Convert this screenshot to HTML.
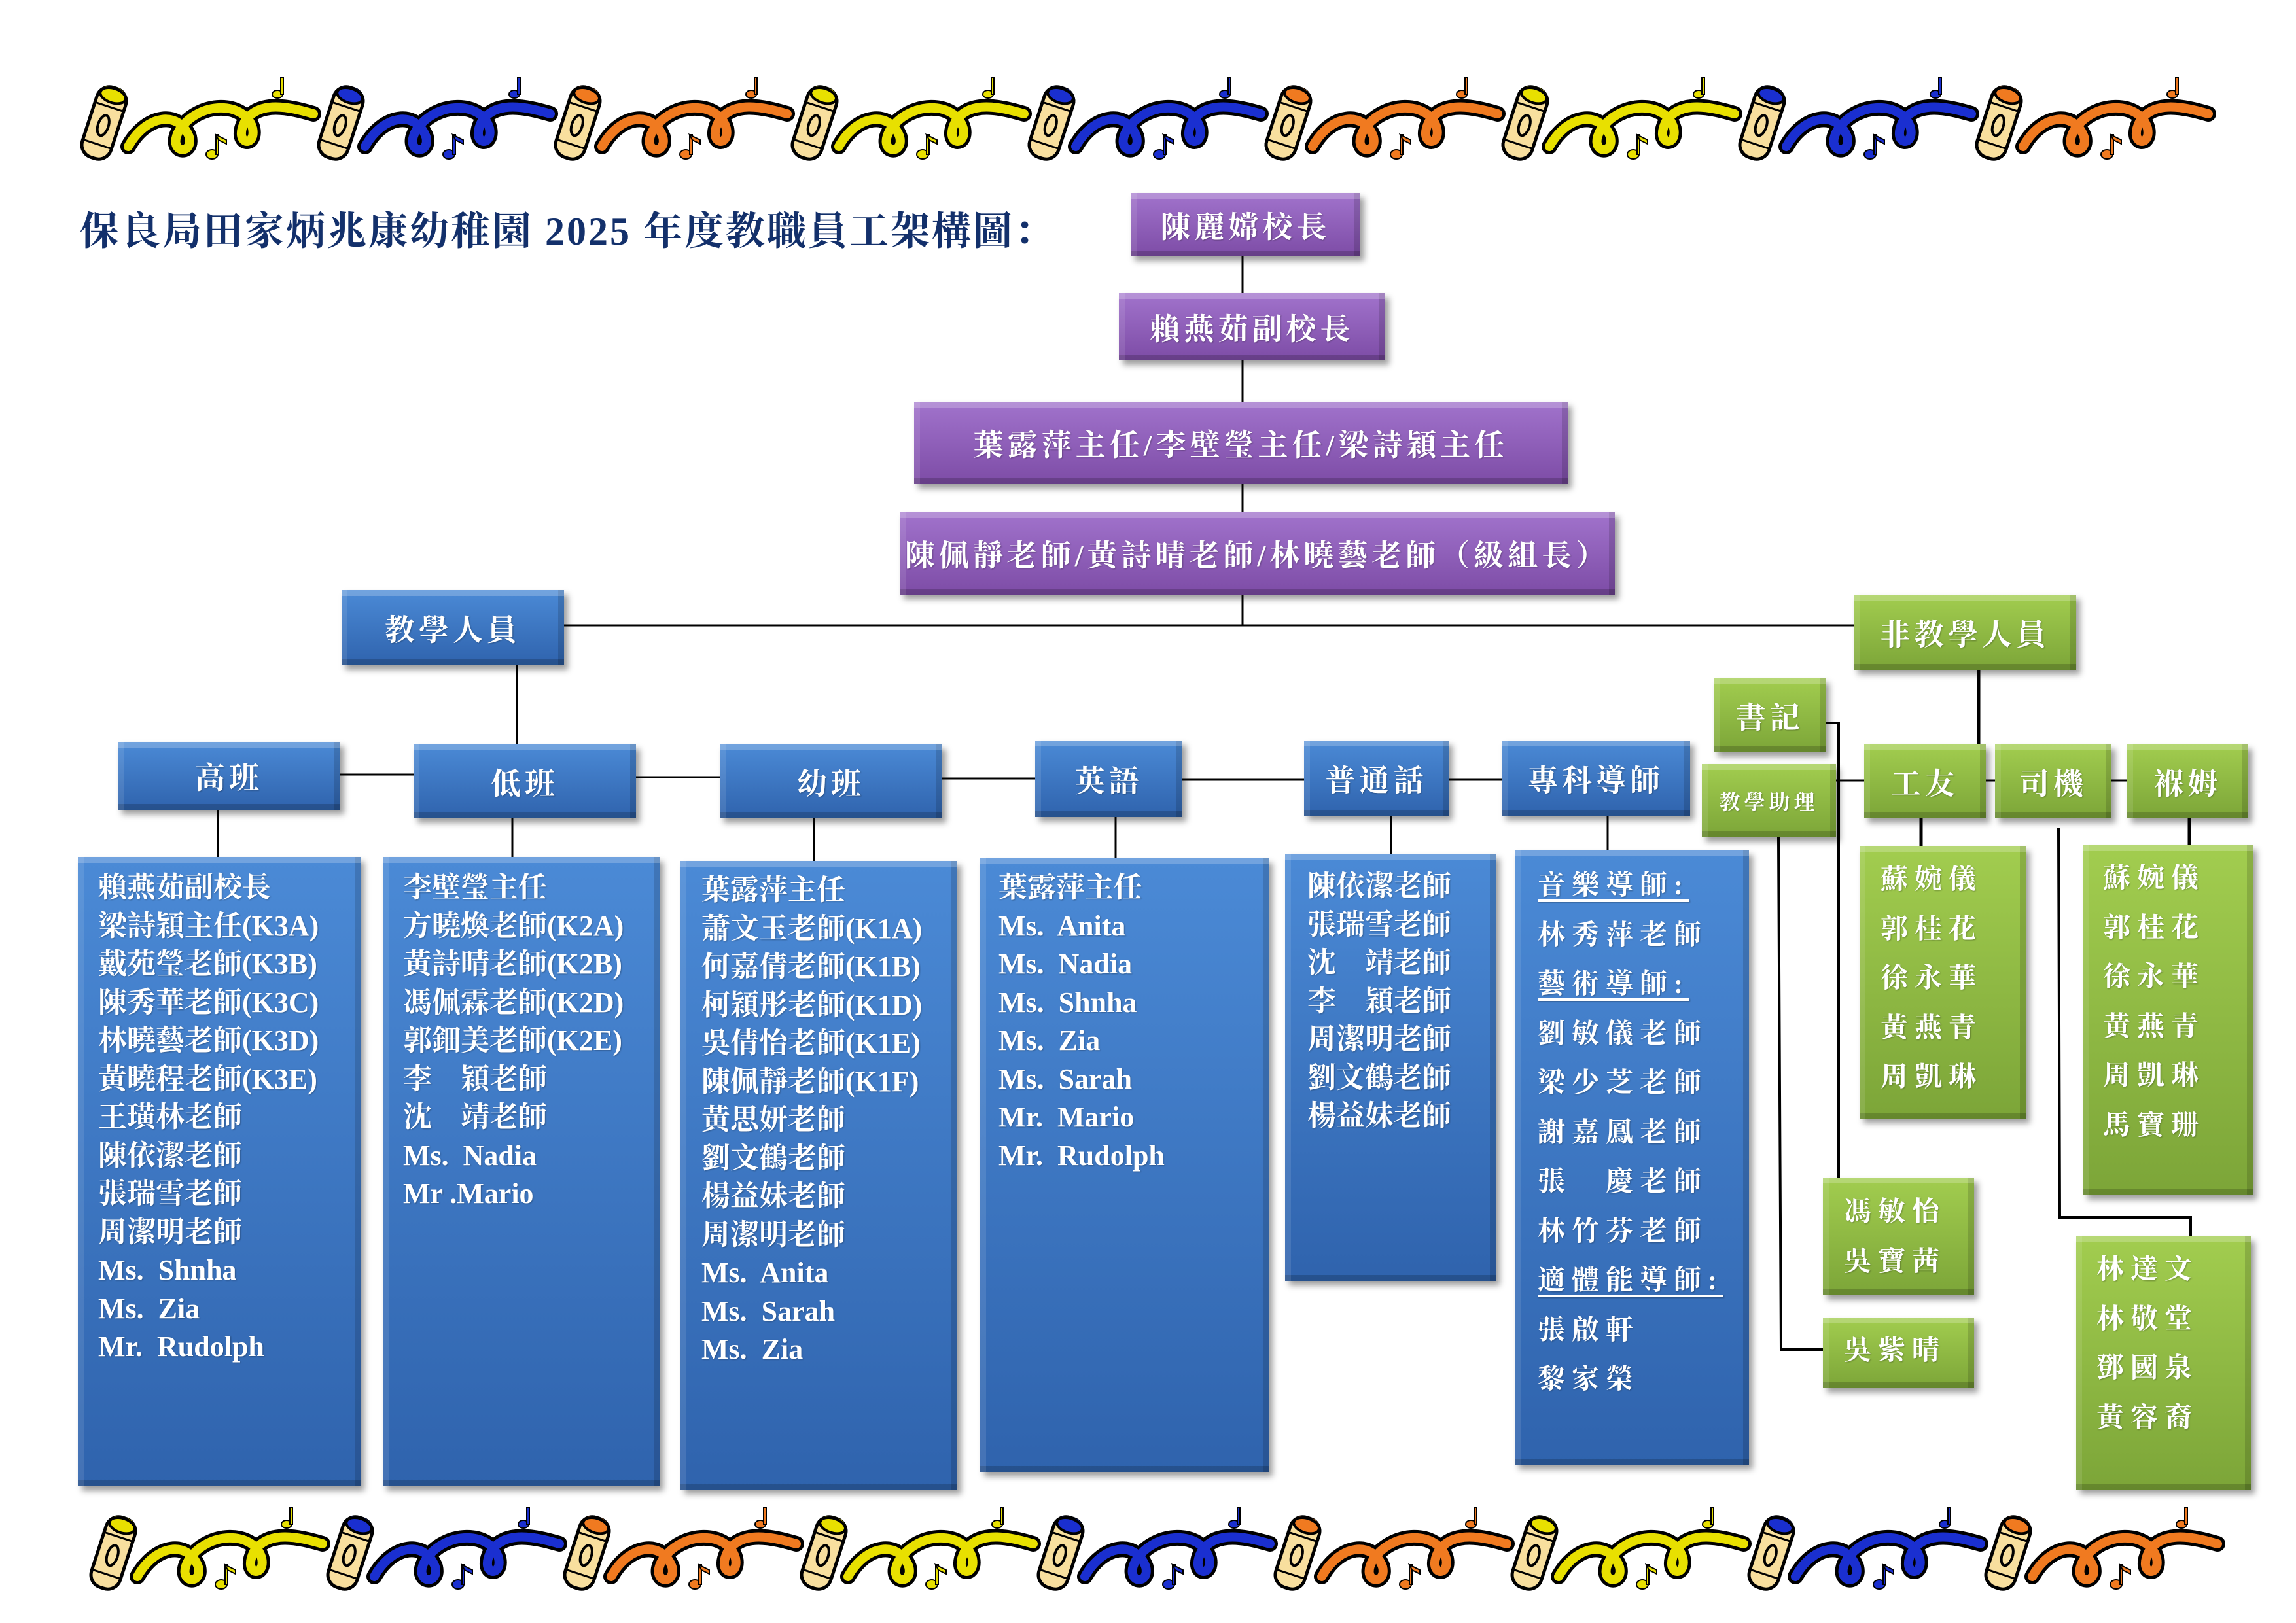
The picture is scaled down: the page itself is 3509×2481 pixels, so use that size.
<!DOCTYPE html>
<html><head><meta charset="utf-8">
<style>
html,body{margin:0;padding:0;background:#fff;}
body{width:3509px;height:2481px;position:relative;overflow:hidden;font-family:"Liberation Serif","Noto Serif CJK SC",serif;}
.b{position:absolute;box-sizing:border-box;color:#fff;font-weight:bold;text-align:center;
box-shadow:6px 7px 9px rgba(0,0,0,.38), inset 0 9px 0 rgba(255,255,255,.22), inset 9px 0 0 rgba(255,255,255,.10), inset -9px 0 0 rgba(0,0,0,.14), inset 0 -9px 0 rgba(0,0,0,.18);}
.p{background:linear-gradient(#a173cc,#7d4ca6);}
.u{background:linear-gradient(#4b8ad6,#2f63ad);}
.g{background:linear-gradient(#a2cd4f,#7ca538);}
.c{display:flex;align-items:center;justify-content:center;font-size:46px;letter-spacing:6px;text-shadow:1px 1px 2px rgba(0,0,0,.3);}
.l{position:absolute;color:#fff;font-weight:bold;font-size:44px;white-space:pre;text-shadow:1px 1px 2px rgba(0,0,0,.3);}
.l div{height:58.5px;line-height:58.5px;}
.w{letter-spacing:10px;}
.w div{height:75.5px;line-height:75.5px;}
.ul{text-decoration:underline;text-underline-offset:8px;}
.h{position:absolute;background:#000;}
</style></head><body>

<svg width="3509" height="2481" style="position:absolute;left:0;top:0" xmlns="http://www.w3.org/2000/svg">
<defs>
<g id="u">
  <path d="M72 100 C100 50 150 45 165 85 C172 115 130 110 150 75 C180 30 250 30 262 72 C268 102 232 98 250 62 C272 28 320 40 355 50" fill="none" stroke="#000" stroke-width="24" stroke-linecap="round"/>
  <path d="M72 100 C100 50 150 45 165 85 C172 115 130 110 150 75 C180 30 250 30 262 72 C268 102 232 98 250 62 C272 28 320 40 355 50" fill="none" stroke="currentColor" stroke-width="14" stroke-linecap="round"/>
  <g transform="translate(35,64) rotate(18)">
    <rect x="-23" y="-56" width="46" height="112" rx="20" fill="#f8df9e" stroke="#000" stroke-width="5"/>
    <path d="M-21 -38 A21 20 0 0 1 21 -38 L21 -44 A21 14 0 0 0 -21 -44 Z" fill="currentColor"/>
    <ellipse cx="0" cy="-44" rx="20" ry="11" fill="currentColor" stroke="#000" stroke-width="4"/>
    <ellipse cx="0" cy="4" rx="8" ry="16" fill="none" stroke="#000" stroke-width="4"/>
    <line x1="-21" y1="-26" x2="21" y2="-26" stroke="#000" stroke-width="3"/>
    <line x1="-21" y1="34" x2="21" y2="34" stroke="#000" stroke-width="3"/>
  </g>
  <g fill="currentColor" stroke="#000" stroke-width="2">
    <ellipse cx="200" cy="112" rx="9" ry="7"/><rect x="206" y="82" width="4" height="30"/><path d="M206 82 L222 90 L222 96 L210 90 Z"/>
    <ellipse cx="300" cy="20" rx="8" ry="6"/><rect x="305" y="-6" width="4" height="26"/>
  </g>
</g>
</defs>
<g transform="translate(124,124)">
  <use href="#u" x="0" style="color:#e8e000"/>
  <use href="#u" x="362" style="color:#1a2fd0"/>
  <use href="#u" x="724" style="color:#f07a20"/>
  <use href="#u" x="1086" style="color:#e8e000"/>
  <use href="#u" x="1448" style="color:#1a2fd0"/>
  <use href="#u" x="1810" style="color:#f07a20"/>
  <use href="#u" x="2172" style="color:#e8e000"/>
  <use href="#u" x="2534" style="color:#1a2fd0"/>
  <use href="#u" x="2896" style="color:#f07a20"/>
</g>
<g transform="translate(138,2310)">
  <use href="#u" x="0" style="color:#e8e000"/>
  <use href="#u" x="362" style="color:#1a2fd0"/>
  <use href="#u" x="724" style="color:#f07a20"/>
  <use href="#u" x="1086" style="color:#e8e000"/>
  <use href="#u" x="1448" style="color:#1a2fd0"/>
  <use href="#u" x="1810" style="color:#f07a20"/>
  <use href="#u" x="2172" style="color:#e8e000"/>
  <use href="#u" x="2534" style="color:#1a2fd0"/>
  <use href="#u" x="2896" style="color:#f07a20"/>
</g>
<g stroke="#000" stroke-width="3" fill="none">
  <line x1="1899" y1="392" x2="1899" y2="448"/>
  <line x1="1899" y1="551" x2="1899" y2="614"/>
  <line x1="1899" y1="740" x2="1899" y2="783"/>
  <line x1="1899" y1="909" x2="1899" y2="956"/>
  <line x1="862" y1="956" x2="2833" y2="956"/>
  <line x1="790" y1="1017" x2="790" y2="1138"/>
  <line x1="520" y1="1184" x2="632" y2="1184"/>
  <line x1="972" y1="1188" x2="1100" y2="1188"/>
  <line x1="1440" y1="1190" x2="1582" y2="1190"/>
  <line x1="1807" y1="1192" x2="1993" y2="1192"/>
  <line x1="2214" y1="1192" x2="2295" y2="1192"/>
  <line x1="333" y1="1238" x2="333" y2="1310"/>
  <line x1="783" y1="1251" x2="783" y2="1310"/>
  <line x1="1244" y1="1251" x2="1244" y2="1316"/>
  <line x1="1705" y1="1249" x2="1705" y2="1312"/>
  <line x1="2126" y1="1247" x2="2126" y2="1305"/>
  <line x1="2457" y1="1247" x2="2457" y2="1300"/>
  <line x1="3024" y1="1024" x2="3024" y2="1138" stroke-width="5"/>
  <line x1="2806" y1="1193" x2="2849" y2="1193"/>
  <line x1="3035" y1="1193" x2="3049" y2="1193"/>
  <line x1="3227" y1="1193" x2="3251" y2="1193"/>
  <line x1="2936" y1="1251" x2="2936" y2="1294" stroke-width="5"/>
  <line x1="3346" y1="1251" x2="3346" y2="1292" stroke-width="5"/>
  <polyline points="2790,1105 2810,1105 2810,1800" stroke-width="4"/>
  <polyline points="2718,1280 2722,2063 2786,2063" stroke-width="4"/>
  <polyline points="3146,1265 3148,1861 3348,1861 3348,1890" stroke-width="4"/>
</g>
</svg>

<div style="position:absolute;left:122px;top:306px;font-size:60px;font-weight:bold;color:#13306b;white-space:nowrap;letter-spacing:3px;">保良局田家炳兆康幼稚園 2025 年度教職員工架構圖：</div>

<div class="b p c" style="left:1728px;top:295px;width:351px;height:97px;">陳麗嫦校長</div>
<div class="b p c" style="left:1710px;top:448px;width:407px;height:103px;">賴燕茹副校長</div>
<div class="b p c" style="left:1397px;top:614px;width:999px;height:126px;">葉露萍主任/李壁瑩主任/梁詩穎主任</div>
<div class="b p c" style="left:1375px;top:783px;width:1093px;height:126px;">陳佩靜老師/黃詩晴老師/林曉藝老師（級組長）</div>

<div class="b u c" style="left:522px;top:902px;width:340px;height:115px;">教學人員</div>
<div class="b g c" style="left:2833px;top:909px;width:340px;height:115px;">非教學人員</div>

<div class="b u c" style="left:180px;top:1134px;width:340px;height:104px;">高班</div>
<div class="b u c" style="left:632px;top:1138px;width:340px;height:113px;">低班</div>
<div class="b u c" style="left:1100px;top:1138px;width:340px;height:113px;">幼班</div>
<div class="b u c" style="left:1582px;top:1132px;width:225px;height:117px;">英語</div>
<div class="b u c" style="left:1993px;top:1132px;width:221px;height:115px;">普通話</div>
<div class="b u c" style="left:2295px;top:1132px;width:288px;height:115px;">專科導師</div>

<div class="b g c" style="left:2619px;top:1037px;width:171px;height:113px;">書記</div>
<div class="b g c" style="left:2601px;top:1168px;width:205px;height:112px;font-size:32px;">教學助理</div>
<div class="b g c" style="left:2849px;top:1138px;width:186px;height:113px;">工友</div>
<div class="b g c" style="left:3049px;top:1138px;width:178px;height:113px;">司機</div>
<div class="b g c" style="left:3251px;top:1138px;width:185px;height:113px;">褓姆</div>

<div class="b u" style="left:119px;top:1310px;width:432px;height:962px;"></div>
<div class="b u" style="left:585px;top:1310px;width:423px;height:962px;"></div>
<div class="b u" style="left:1040px;top:1316px;width:423px;height:961px;"></div>
<div class="b u" style="left:1498px;top:1312px;width:441px;height:938px;"></div>
<div class="b u" style="left:1964px;top:1305px;width:322px;height:653px;"></div>
<div class="b u" style="left:2315px;top:1300px;width:358px;height:939px;"></div>
<div class="b g" style="left:2842px;top:1294px;width:254px;height:416px;"></div>
<div class="b g" style="left:3184px;top:1292px;width:259px;height:535px;"></div>
<div class="b g" style="left:3173px;top:1890px;width:267px;height:387px;"></div>
<div class="b g" style="left:2786px;top:1800px;width:231px;height:180px;"></div>
<div class="b g" style="left:2786px;top:2014px;width:231px;height:108px;"></div>

<div class="l" style="left:150px;top:1328px;"><div>賴燕茹副校長</div><div>梁詩穎主任(K3A)</div><div>戴苑瑩老師(K3B)</div><div>陳秀華老師(K3C)</div><div>林曉藝老師(K3D)</div><div>黃曉程老師(K3E)</div><div>王璜林老師</div><div>陳依潔老師</div><div>張瑞雪老師</div><div>周潔明老師</div><div>Ms.  Shnha</div><div>Ms.  Zia</div><div>Mr.  Rudolph</div></div>

<div class="l" style="left:616px;top:1328px;"><div>李壁瑩主任</div><div>方曉煥老師(K2A)</div><div>黃詩晴老師(K2B)</div><div>馮佩霖老師(K2D)</div><div>郭鈿美老師(K2E)</div><div>李　穎老師</div><div>沈　靖老師</div><div>Ms.  Nadia</div><div>Mr .Mario</div></div>

<div class="l" style="left:1072px;top:1332px;"><div>葉露萍主任</div><div>蕭文玉老師(K1A)</div><div>何嘉倩老師(K1B)</div><div>柯穎彤老師(K1D)</div><div>吳倩怡老師(K1E)</div><div>陳佩靜老師(K1F)</div><div>黃思妍老師</div><div>劉文鶴老師</div><div>楊益妹老師</div><div>周潔明老師</div><div>Ms.  Anita</div><div>Ms.  Sarah</div><div>Ms.  Zia</div></div>

<div class="l" style="left:1526px;top:1328px;"><div>葉露萍主任</div><div>Ms.  Anita</div><div>Ms.  Nadia</div><div>Ms.  Shnha</div><div>Ms.  Zia</div><div>Ms.  Sarah</div><div>Mr.  Mario</div><div>Mr.  Rudolph</div></div>

<div class="l" style="left:1998px;top:1326px;"><div>陳依潔老師</div><div>張瑞雪老師</div><div>沈　靖老師</div><div>李　穎老師</div><div>周潔明老師</div><div>劉文鶴老師</div><div>楊益妹老師</div></div>

<div class="l w" style="left:2350px;top:1317px;font-size:42px;"><div><span class="ul">音樂導師:</span></div><div>林秀萍老師</div><div><span class="ul">藝術導師:</span></div><div>劉敏儀老師</div><div>梁少芝老師</div><div>謝嘉鳳老師</div><div>張　慶老師</div><div>林竹芬老師</div><div><span class="ul">適體能導師:</span></div><div>張啟軒</div><div>黎家榮</div></div>

<div class="l w" style="left:2874px;top:1308px;font-size:42px;"><div>蘇婉儀</div><div>郭桂花</div><div>徐永華</div><div>黃燕青</div><div>周凱琳</div></div>
<div class="l w" style="left:3214px;top:1306px;font-size:42px;"><div>蘇婉儀</div><div>郭桂花</div><div>徐永華</div><div>黃燕青</div><div>周凱琳</div><div>馬寶珊</div></div>
<div class="l w" style="left:3204px;top:1904px;font-size:42px;"><div>林達文</div><div>林敬堂</div><div>鄧國泉</div><div>黃容裔</div></div>
<div class="l w" style="left:2818px;top:1816px;font-size:42px;"><div>馮敏怡</div><div>吳寶茜</div></div>
<div class="l w" style="left:2818px;top:2028px;font-size:42px;"><div>吳紫晴</div></div>

</body></html>
